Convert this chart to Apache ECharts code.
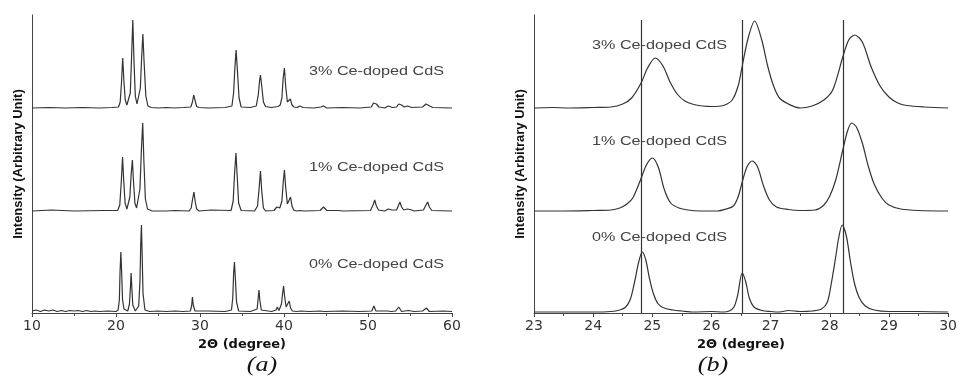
<!DOCTYPE html>
<html><head><meta charset="utf-8">
<script src="https://cdn.jsdelivr.net/npm/echarts@6/dist/echarts.min.js"></script>
<style>html,body{margin:0;padding:0;background:#fff}#c{width:960px;height:381px}</style>
</head><body><div id="c"></div>
<script>
// ---------- data ----------
const sampleNames = ['0% Ce-doped CdS', '1% Ce-doped CdS', '3% Ce-doped CdS'];
const stackOffsets = [1, 102, 205];           // vertical offset of each pattern (arbitrary units)
const ticksA = [10, 20, 30, 40, 50, 60];
const ticksB = [23, 24, 25, 26, 27, 28, 29, 30];
const referenceLinesB = [24.81, 26.52, 28.22]; // 2θ of the undoped peaks
const refLineTop = 293;

// panel (a): [2θ, intensity]
const patternA0 = [[10,1],[10.5,2],[11,0.5],[11.5,2],[12,1],[12.5,2],[13,0.5],[13.5,1.5],[14,0.5],[14.5,1.5],[15,1],[15.5,1.5],[16,0.5],[16.5,1.5],[17,0.5],[17.5,1],[18,0.5],[19,1],[20,0.5],[20.25,2],[20.4,12],[20.48,40],[20.58,60],[20.68,38],[20.78,12],[20.95,3],[21.4,1],[21.6,8],[21.72,25],[21.8,39],[21.9,22],[22.0,7],[22.3,1],[22.7,6],[22.85,30],[22.95,70],[23.03,87],[23.12,55],[23.22,18],[23.45,2],[24,0.5],[25,1],[26,0.5],[27,1],[28,0.5],[28.85,1],[29.0,6],[29.1,15],[29.2,7],[29.4,1],[31,1],[33,0.5],[33.75,2],[33.9,14],[34.0,38],[34.1,50],[34.2,35],[34.35,10],[34.6,1],[36,0.5],[36.8,3],[36.93,14],[37.02,22],[37.12,12],[37.3,2],[38.5,0.5],[39.05,2],[39.2,5],[39.4,1.5],[39.7,8],[39.85,20],[39.95,26],[40.07,16],[40.25,5],[40.45,3],[40.62,11],[40.78,4],[41.0,1],[41.5,0.5],[42,1],[43,0.5],[44.3,1],[44.5,2.5],[44.8,0.5],[47,1],[49,0.5],[50.45,1],[50.7,6],[50.95,1],[52.3,1],[52.5,2],[52.8,0.5],[53.3,1],[53.65,5],[54.0,0.5],[54.8,1.5],[55.5,0.5],[56.5,1],[56.95,4],[57.3,0.5],[59,1],[60,0.5]];
const patternA1 = [[10,0],[12.3,1],[12.5,0],[15,0],[18.5,0.5],[20.2,0.5],[20.45,6],[20.62,28],[20.78,54],[20.92,30],[21.08,8],[21.3,2],[21.45,3],[21.65,14],[21.8,36],[21.95,51],[22.08,30],[22.25,8],[22.45,3],[22.65,5],[22.85,22],[23.02,60],[23.18,88],[23.32,50],[23.5,12],[23.75,2],[24.3,0],[26,0],[27,0.5],[28.7,0],[28.95,3],[29.12,12],[29.28,19],[29.42,10],[29.6,2],[29.9,0],[31.3,1],[31.5,0],[33.7,0.5],[33.95,10],[34.12,38],[34.28,58],[34.42,36],[34.6,8],[34.9,0.5],[36.5,0],[36.85,5],[37.05,24],[37.2,40],[37.35,20],[37.55,3],[37.8,0],[38.8,0.5],[39.15,4],[39.3,6],[39.5,3],[39.75,10],[39.92,30],[40.05,41],[40.2,24],[40.4,7],[40.55,7],[40.78,14],[40.95,5],[41.15,1],[41.5,0],[41.9,0.5],[42.1,1.5],[42.4,0],[44.3,0.5],[44.7,4],[45.1,0.5],[46.5,0.5],[47,0],[50.3,0.5],[50.6,6],[50.8,11],[51.0,5],[51.25,1],[52,0],[52.4,2],[52.6,4],[52.85,1],[53.4,1],[53.65,6],[53.8,9],[54.0,4],[54.25,1],[54.7,2],[54.9,4],[55.2,1],[55.5,0],[56.6,1],[56.9,6],[57.1,9],[57.3,4],[57.6,0.5],[60,0]];
const patternA3 = [[10,0],[12,0.5],[14,0],[16,0.5],[18,0],[19.5,0.5],[20.3,1],[20.5,6],[20.65,25],[20.8,50],[20.95,26],[21.1,8],[21.3,3],[21.5,4],[21.7,15],[21.85,50],[22.0,88],[22.15,45],[22.3,12],[22.5,4],[22.7,6],[22.9,20],[23.05,50],[23.2,74],[23.35,45],[23.55,12],[23.8,2],[24.2,0.5],[25,0],[26,0.5],[27,0],[28,0.5],[28.9,1],[29.1,6],[29.25,13],[29.4,8],[29.6,1.5],[29.9,0.5],[31,0],[33,0.5],[33.8,2],[34.0,15],[34.15,40],[34.3,58],[34.45,38],[34.65,10],[34.9,1],[36,0.5],[36.7,2],[36.95,14],[37.1,28],[37.2,33],[37.35,22],[37.55,6],[37.8,1.5],[38.5,0.5],[39.3,1.5],[39.55,3],[39.75,10],[39.9,30],[40.05,40],[40.2,22],[40.4,6],[40.55,6],[40.75,9],[40.95,3],[41.2,1],[41.6,0.5],[41.85,2],[42.05,3],[42.3,0.5],[43.5,0],[44.4,1],[44.7,2],[45.1,0],[47,0.5],[49,0],[50.4,1],[50.65,5],[50.8,7],[51.0,4],[51.3,1],[52.0,0],[52.4,2],[52.6,3],[52.9,0.5],[53.4,1],[53.65,4],[53.8,5],[54.0,3],[54.3,1],[54.7,2],[54.9,3],[55.2,0.5],[56.5,1],[56.9,4],[57.1,5],[57.35,2],[57.7,0.5],[60,0]];

// panel (b): [2θ, intensity]
const patternB0 = [[23,0],[23.5,0],[24,0],[24.3,0.5],[24.45,2],[24.55,5],[24.63,13],[24.7,30],[24.77,50],[24.83,60],[24.89,52],[24.95,34],[25.02,18],[25.1,8],[25.2,4],[25.35,2],[25.5,1],[25.7,0],[26,0.5],[26.2,0],[26.3,1],[26.38,5],[26.44,16],[26.52,39],[26.58,30],[26.64,14],[26.72,5],[26.85,1.5],[27.0,0.5],[27.15,0],[27.3,1.5],[27.5,0.5],[27.7,1],[27.86,3],[27.96,10],[28.03,30],[28.1,55],[28.15,74],[28.21,87],[28.28,76],[28.35,50],[28.42,28],[28.5,14],[28.6,6],[28.75,2],[29,0.5],[29.5,0.5],[30,0]];
const patternB1 = [[23,0],[23.5,0],[24,0.5],[24.3,1],[24.45,3],[24.57,7],[24.67,13],[24.8,31],[24.9,46],[25.0,53],[25.1,44],[25.2,22],[25.31,8],[25.45,3],[25.6,1],[25.8,0],[26.1,0],[26.25,2],[26.37,5],[26.45,14],[26.52,29],[26.6,44],[26.69,50],[26.78,44],[26.88,25],[26.98,11],[27.1,4],[27.3,1.5],[27.5,0.5],[27.75,1],[27.9,6],[28.0,15],[28.1,31],[28.22,61],[28.3,80],[28.37,88],[28.45,84],[28.55,68],[28.65,45],[28.75,27],[28.88,13],[29.0,6],[29.2,2],[29.5,0.5],[30,0]];
const patternB3 = [[23,0],[23.3,0.5],[23.6,0],[24,0.5],[24.3,1],[24.5,4],[24.65,10],[24.81,25],[24.92,40],[25.05,50],[25.18,42],[25.3,26],[25.42,14],[25.55,7],[25.7,3.5],[25.85,2],[26.0,1.5],[26.2,2.5],[26.35,8],[26.45,22],[26.52,42],[26.62,70],[26.73,87],[26.85,68],[26.95,42],[27.05,22],[27.15,10],[27.3,4],[27.5,0],[27.7,2],[27.9,8],[28.05,18],[28.22,51],[28.32,68],[28.42,73],[28.55,66],[28.7,41],[28.85,22],[29.0,11],[29.15,5],[29.3,2.5],[29.6,1],[30,0]];

// ---------- chart ----------
const lineColor = '#333';
const axisColor = '#444';
const tickFont = { color: '#333', fontSize: 14, fontFamily: 'DejaVu Sans' };

function shift(arr, off) { return arr.map(p => [p[0], p[1] + off]); }

function xAxisFor(gridIndex, ticks) {
  return {
    type: 'value', gridIndex: gridIndex,
    min: ticks[0], max: ticks[ticks.length - 1], interval: ticks[1] - ticks[0],
    name: '2\u0398 (degree)', nameLocation: 'middle', nameGap: 23,
    nameTextStyle: { color: '#111', fontSize: 13, fontWeight: 'bold', fontFamily: 'DejaVu Sans' },
    axisLine: { show: true, lineStyle: { color: axisColor, width: 1 } },
    axisTick: { show: true, inside: false, length: 4, lineStyle: { color: axisColor } },
    minorTick: { show: true, splitNumber: 2, length: 3, lineStyle: { color: axisColor } },
    axisLabel: Object.assign({ margin: 6 }, tickFont),
    splitLine: { show: false }
  };
}
function yAxisFor(gridIndex) {
  return {
    type: 'value', gridIndex: gridIndex, min: 0, max: 298,
    name: 'Intensity (Arbitrary Unit)', nameLocation: 'middle', nameGap: 7,
    nameTextStyle: { color: '#111', fontSize: 13, fontWeight: 'bold', fontFamily: 'Liberation Sans' },
    axisLine: { show: true, lineStyle: { color: axisColor, width: 1 } },
    axisTick: { show: false }, axisLabel: { show: false }, splitLine: { show: false }
  };
}
function lineSeries(name, arr, off, gi, smooth) {
  return {
    type: 'line', name: name, xAxisIndex: gi, yAxisIndex: gi,
    data: shift(arr, off), showSymbol: false, symbol: 'none', smooth: smooth,
    lineStyle: { color: lineColor, width: 1.2 }, silent: true
  };
}

const series = [
  lineSeries(sampleNames[0], patternA0, stackOffsets[0], 0, false),
  lineSeries(sampleNames[1], patternA1, stackOffsets[1], 0, false),
  lineSeries(sampleNames[2], patternA3, stackOffsets[2], 0, false),
  lineSeries(sampleNames[0], patternB0, stackOffsets[0], 1, 0.3),
  lineSeries(sampleNames[1], patternB1, stackOffsets[1], 1, 0.3),
  lineSeries(sampleNames[2], patternB3, stackOffsets[2], 1, 0.3)
];
series[3].markLine = {
  silent: true, symbol: ['none', 'none'], label: { show: false },
  lineStyle: { color: '#333', width: 1.2, type: 'solid' },
  data: referenceLinesB.map(v => [{ coord: [v, 0] }, { coord: [v, refLineTop] }])
};

function txt(x, y, text, font, scaleX, align, fill) {
  return { type: 'text', x: x, y: y, scaleX: scaleX, silent: true,
    style: { text: text, font: font, fill: fill, align: align, verticalAlign: 'middle',
             textAlign: align, textVerticalAlign: 'middle' } };
}
const labelFont = '12px "Liberation Sans"';
const panelFont = 'italic 20px "Liberation Serif"';
const graphic = [
  txt(309, 72, sampleNames[2], labelFont, 1.35, 'left', '#444'),
  txt(309, 168, sampleNames[1], labelFont, 1.35, 'left', '#444'),
  txt(309, 265, sampleNames[0], labelFont, 1.35, 'left', '#444'),
  txt(592, 46, sampleNames[2], labelFont, 1.35, 'left', '#444'),
  txt(592, 142, sampleNames[1], labelFont, 1.35, 'left', '#444'),
  txt(592, 238, sampleNames[0], labelFont, 1.35, 'left', '#444'),
  txt(262, 366, '(a)', panelFont, 1.3, 'center', '#111'),
  txt(713, 366, '(b)', panelFont, 1.3, 'center', '#111')
];

const chart = echarts.init(document.getElementById('c'), null, { renderer: 'canvas' });
chart.setOption({
  animation: false,
  backgroundColor: '#fff',
  grid: [
    { left: 32, right: 508, top: 15, bottom: 68 },
    { left: 534, right: 9, top: 15, bottom: 68 }
  ],
  xAxis: [xAxisFor(0, ticksA), xAxisFor(1, ticksB)],
  yAxis: [yAxisFor(0), yAxisFor(1)],
  series: series,
  graphic: graphic
});
</script>
</body></html>
